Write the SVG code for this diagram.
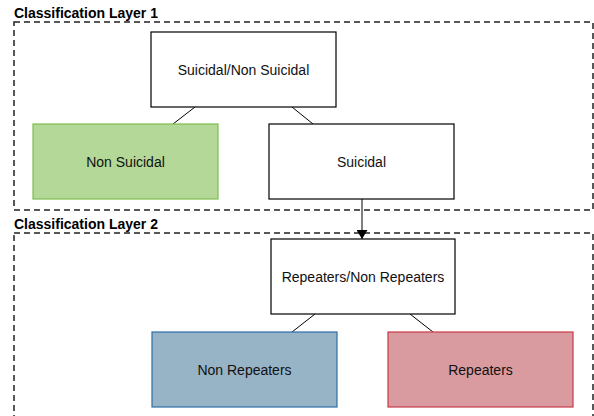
<svg xmlns="http://www.w3.org/2000/svg" width="594" height="416" viewBox="0 0 594 416">
<style>
.layer{fill:none;stroke:#222;stroke-width:1.5;stroke-dasharray:6 4}
.title{font-family:"Liberation Sans",Arial,sans-serif;font-size:14px;font-weight:bold;fill:#000}
.node{stroke-width:1.2}
.plain{fill:#fff;stroke:#000}
.green{fill:#b3d897;stroke:#7dbf4e}
.blue{fill:#97b3c6;stroke:#2e6ea5}
.red{fill:#d99aa0;stroke:#c83a47}
.lbl{font-family:"Liberation Sans",Arial,sans-serif;font-size:14px;fill:#111;text-anchor:middle;dominant-baseline:central}
.edge{stroke:#000;stroke-width:1;fill:none}
</style>
<defs>
<marker id="arr" markerWidth="9" markerHeight="11" refX="9" refY="5.5" orient="auto" markerUnits="userSpaceOnUse" viewBox="0 0 9 11">
<path d="M0,0 L9,5.5 L0,11 Z" fill="#000"/>
</marker>
</defs>
<g id="layer1">
<rect class="layer" x="14" y="22" width="579" height="188"/>
<text class="title" x="14" y="18">Classification Layer 1</text>
</g>
<g id="layer2">
<rect class="layer" x="14" y="233" width="579" height="200"/>
<text class="title" x="14" y="229">Classification Layer 2</text>
</g>
<g id="connectors">
<line class="edge" x1="195" y1="107" x2="173" y2="124"/>
<line class="edge" x1="292" y1="107" x2="313" y2="124"/>
<line class="edge" x1="362" y1="199" x2="362" y2="239" marker-end="url(#arr)"/>
<line class="edge" x1="315" y1="314" x2="292" y2="332"/>
<line class="edge" x1="410" y1="314" x2="433" y2="332"/>
</g>
<g id="suicidal-non-suicidal">
<rect class="node plain" x="151" y="32" width="185" height="75"/>
<text class="lbl" x="243.5" y="69.5">Suicidal/Non Suicidal</text>
</g>
<g id="non-suicidal">
<rect class="node green" x="33" y="124" width="185" height="75"/>
<text class="lbl" x="125.5" y="161.5">Non Suicidal</text>
</g>
<g id="suicidal">
<rect class="node plain" x="269" y="124" width="185" height="75"/>
<text class="lbl" x="361.5" y="161.5">Suicidal</text>
</g>
<g id="repeaters-non-repeaters">
<rect class="node plain" x="271" y="239" width="184" height="75"/>
<text class="lbl" x="363" y="276.5">Repeaters/Non Repeaters</text>
</g>
<g id="non-repeaters">
<rect class="node blue" x="152" y="332" width="185" height="75"/>
<text class="lbl" x="244.5" y="369.5">Non Repeaters</text>
</g>
<g id="repeaters">
<rect class="node red" x="388" y="332" width="185" height="75"/>
<text class="lbl" x="480.5" y="369.5">Repeaters</text>
</g>
</svg>
